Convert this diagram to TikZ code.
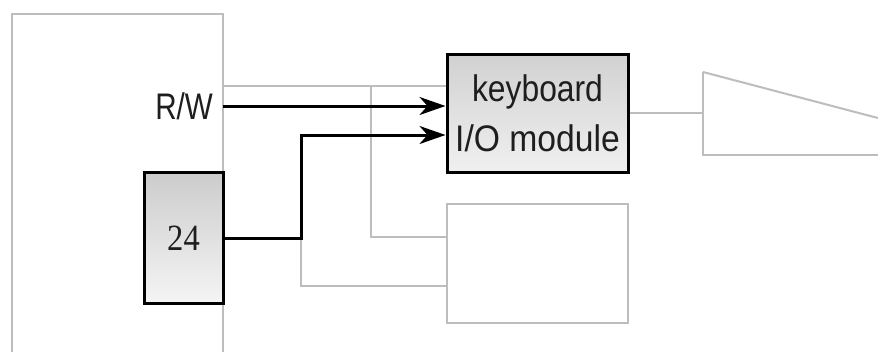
\documentclass[tikz,border=0pt]{standalone}
\usepackage{fontspec}
\setmainfont{Liberation Serif}
\setsansfont{Liberation Sans}
\usetikzlibrary{arrows.meta}
\definecolor{lg}{HTML}{BDBDBD}
\definecolor{txt}{HTML}{1E1E1E}
\begin{document}
\begin{tikzpicture}[x=1pt,y=-1pt,
  gry/.style={draw=lg, line width=2pt},
  blk/.style={draw=black, line width=3pt},
  arr/.style={blk, -{Stealth[length=26pt,width=18pt,inset=8pt]}},
  graybox/.style={draw=lg, line width=2pt, fill=white, inner sep=0pt},
  darkbox/.style={draw=black, line width=3pt, inner sep=0pt},
  lbl/.style={text=txt, inner sep=0pt}]
\useasboundingbox (0,0) rectangle (878,351);
\clip (0,0) rectangle (878,351);
\fill[white] (0,0) rectangle (878,351);

% processor outline (open at bottom)
\draw[gry] (12,360) -- (12,14) -- (223,14) -- (223,360);

% named points on the processor edge and junctions
\coordinate (cpuTop) at (223,86);
\coordinate (rwout) at (223,106);
\coordinate (vA) at (371,86);
\coordinate (j) at (301,135);
\coordinate (tri) at (703,113);

% nodes
\node[darkbox, top color=black!18, bottom color=black!6, minimum width=181pt, minimum height=118pt,
      align=center, text=txt, font=\sffamily\fontsize{37}{50}\selectfont] (kb) at (537.5,113)
      {\scalebox{0.86}[1]{keyboard}\\\scalebox{0.91}[1]{I/O module}};
\node[graybox, minimum width=181pt, minimum height=119pt] (io2) at (537.5,263.5) {};
\node[lbl, anchor=east, font=\sffamily\fontsize{37}{37}\selectfont] (rw) at (213,106) {\scalebox{0.8}[1]{R/W}};

% gray connectors
\draw[gry] (cpuTop) -- (cpuTop -| kb.west);
\draw[gry] (vA) |- (io2.west |- 0,237);
\draw[gry] (kb.east) -- (tri);
\draw[gry] (301,238) |- (io2.west |- 0,286);

% triangle
\draw[gry] (703,72) -- (703,155) -- (960,155);
\draw[gry] (703,72) -- (960,139.6);

% register box
\node[darkbox, top color=black!20, bottom color=black!4, minimum width=79pt, minimum height=131pt,
      text=txt, font=\fontsize{37}{37}\selectfont] (reg) at (183.5,238) {\scalebox{0.88}[1]{24}};

% black connectors
\draw[arr] (rwout) -- (rwout -| kb.west);
\draw[arr] (reg.east) -| (j) -- (j -| kb.west);
\end{tikzpicture}
\end{document}
